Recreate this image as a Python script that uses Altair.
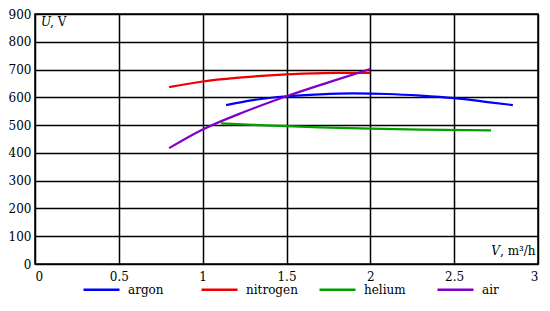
import altair as alt
import pandas as pd

series = ["argon", "nitrogen", "helium", "air"]
colors = ["#0000ff", "#ee0000", "#00a000", "#8000c8"]

argon_v = [1.14, 1.3, 1.5, 1.7, 1.9, 2.1, 2.3, 2.5, 2.7, 2.85]
argon_u = [572, 590, 604, 611, 614, 612, 606, 597, 583, 572]

nitrogen_v = [0.8, 1.0, 1.2, 1.4, 1.6, 1.8, 2.0]
nitrogen_u = [637, 657, 670, 679, 685, 688, 688]

helium_v = [1.11, 1.3, 1.5, 1.7, 2.0, 2.3, 2.72]
helium_u = [506, 501, 496, 492, 487, 484, 481]

air_v = [0.8, 1.0, 1.25, 1.5, 1.75, 2.0]
air_u = [417, 484, 548, 604, 654, 702]

rows = []
for name, vs, us in [("argon", argon_v, argon_u), ("nitrogen", nitrogen_v, nitrogen_u),
                     ("helium", helium_v, helium_u), ("air", air_v, air_u)]:
    for i, (v, u) in enumerate(zip(vs, us)):
        rows.append({"series": name, "V": v, "U": u, "order": i})
df = pd.DataFrame(rows)

x_ticks = [0, 0.5, 1, 1.5, 2, 2.5, 3]
y_ticks = [0, 100, 200, 300, 400, 500, 600, 700, 800, 900]

FONT = "DejaVu Serif"
FS = 12

lines = alt.Chart(df).mark_line(strokeWidth=2.2, interpolate="monotone").encode(
    x=alt.X("V:Q", scale=alt.Scale(domain=[0, 3], nice=False),
            axis=alt.Axis(values=x_ticks, title=None, grid=True, ticks=False,
                          domain=False, labelPadding=7, gridColor="#000000",
                          gridWidth=1.5, gridOpacity=1, labelFontSize=FS,
                          labelFont=FONT, labelColor="#000000", format="~g")),
    y=alt.Y("U:Q", scale=alt.Scale(domain=[0, 900], nice=False),
            axis=alt.Axis(values=y_ticks, title=None, grid=True, ticks=False,
                          domain=False, labelPadding=4, gridColor="#000000",
                          gridWidth=1.5, gridOpacity=1, labelFontSize=FS,
                          labelFont=FONT, labelColor="#000000")),
    color=alt.Color("series:N", scale=alt.Scale(domain=series, range=colors),
                    sort=series,
                    legend=alt.Legend(title=None, orient="none", direction="horizontal",
                                      legendX=47, legendY=256, columns=4,
                                      gridAlign="all", symbolType="stroke",
                                      symbolSize=1296, symbolStrokeWidth=2.5,
                                      labelFontSize=FS, labelFont=FONT,
                                      labelColor="#000000", labelOffset=7,
                                      columnPadding=16)),
    order="order:Q",
)

ylab1 = alt.Chart(pd.DataFrame({"t": ["U"]})).mark_text(
    font=FONT, fontSize=FS, fontStyle="italic", align="left", baseline="middle"
).encode(x=alt.value(6), y=alt.value(8), text="t:N")
ylab2 = alt.Chart(pd.DataFrame({"t": [", V"]})).mark_text(
    font=FONT, fontSize=FS, align="left", baseline="middle"
).encode(x=alt.value(15), y=alt.value(8), text="t:N")
xlab1 = alt.Chart(pd.DataFrame({"t": ["V"]})).mark_text(
    font=FONT, fontSize=FS, fontStyle="italic", align="right", baseline="middle"
).encode(x=alt.value(465), y=alt.value(237), text="t:N")
xlab2 = alt.Chart(pd.DataFrame({"t": [", m³/h"]})).mark_text(
    font=FONT, fontSize=FS, align="left", baseline="middle"
).encode(x=alt.value(465), y=alt.value(237), text="t:N")

chart = alt.layer(lines, ylab1, ylab2, xlab1, xlab2).properties(
    width=503, height=250,
    autosize=alt.AutoSizeParams(type="none"),
    padding={"left": 27, "top": 6, "right": 4, "bottom": 34},
    background="white",
).configure_view(stroke="#000000", strokeWidth=1.5)

chart.save("out.html", embed_options={"renderer": "svg", "actions": False})
